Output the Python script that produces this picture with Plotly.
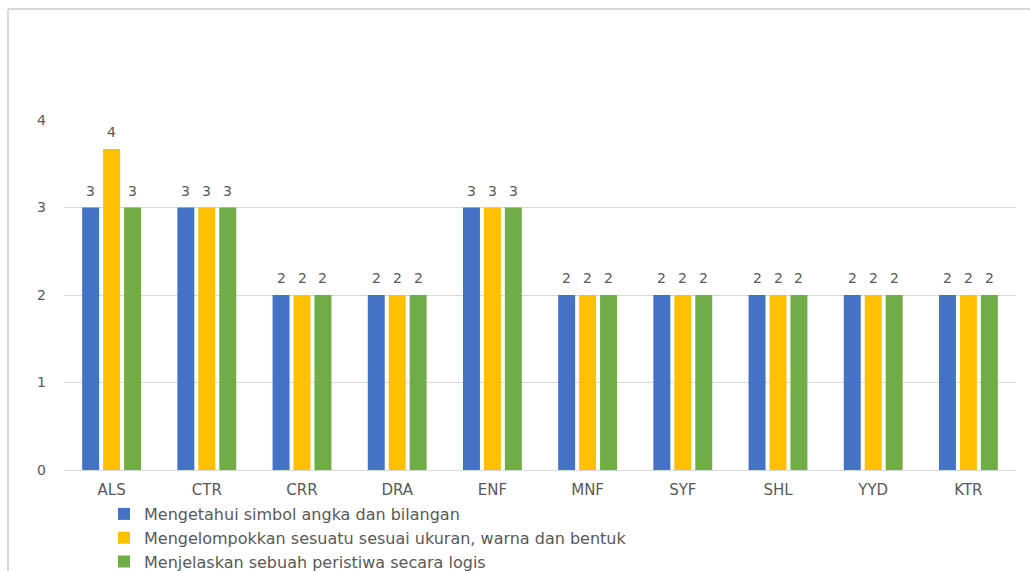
import plotly.graph_objects as go

categories = ["ALS", "CTR", "CRR", "DRA", "ENF", "MNF", "SYF", "SHL", "YYD", "KTR"]
series_names = [
    "Mengetahui simbol angka dan bilangan",
    "Mengelompokkan sesuatu sesuai ukuran, warna dan bentuk",
    "Menjelaskan sebuah peristiwa secara logis",
]
s1 = [3, 3, 2, 2, 3, 2, 2, 2, 2, 2]
s2 = [3.67, 3, 2, 2, 3, 2, 2, 2, 2, 2]
s3 = [3, 3, 2, 2, 3, 2, 2, 2, 2, 2]
colors = ["#4472C4", "#FFC000", "#70AD47"]
y_ticks = [0, 1, 2, 3, 4]

FONT = "DejaVu Sans"
GREY = "#595959"
W, H = 1030, 571
L, R, T, B = 64, 14, 120, 101
pw, ph = W - L - R, H - T - B
BARGAP, GROUPGAP = 0.34, 0.19
slot = pw / len(categories) * (1 - BARGAP) / 3  # pixel spacing between bars in a group

fig = go.Figure()
annotations = []
for i, (name, vals, c) in enumerate(zip(series_names, [s1, s2, s3], colors)):
    fig.add_trace(go.Bar(
        x=categories, y=vals, name=name, marker_color=c,
        marker_line_width=0,
    ))
    for cat, v in zip(categories, vals):
        annotations.append(dict(
            x=cat, y=v, xref="x", yref="y", text=f"{v:.0f}", showarrow=False,
            xanchor="center", yanchor="bottom", xshift=(i - 1) * slot, yshift=7,
            font=dict(family=FONT, size=14, color=GREY),
        ))

def px_x(p):
    return (p - L) / pw

def px_y(p):
    return (H - B - p) / ph

fig.update_layout(
    width=W, height=H,
    margin=dict(l=L, r=R, t=T, b=B, autoexpand=False),
    paper_bgcolor="white", plot_bgcolor="white",
    barmode="group", bargap=BARGAP, bargroupgap=GROUPGAP,
    font=dict(family=FONT, color=GREY),
    showlegend=True,
    legend=dict(
        orientation="v", x=px_x(104), y=px_y(497), xanchor="left", yanchor="top",
        font=dict(family=FONT, size=16, color=GREY), bgcolor="rgba(0,0,0,0)",
        itemwidth=30, tracegroupgap=0,
    ),
    xaxis=dict(
        showgrid=False, showline=True, linecolor="#d9d9d9", linewidth=1,
        ticks="", tickfont=dict(family=FONT, size=15, color=GREY), ticklabelstandoff=6,
    ),
    yaxis=dict(
        range=[0, 4], tickvals=y_ticks, showgrid=True, gridcolor="#d9d9d9",
        gridwidth=1, zeroline=False, showline=False, ticks="",
        tickfont=dict(family=FONT, size=14, color=GREY), ticklabelstandoff=17,
    ),
    annotations=annotations,
    shapes=[
        dict(type="line", xref="paper", yref="paper", x0=px_x(8), x1=px_x(8),
             y0=px_y(9), y1=px_y(H + 5), line=dict(color="#d9d9d9", width=2)),
        dict(type="line", xref="paper", yref="paper", x0=px_x(8), x1=px_x(W + 5),
             y0=px_y(9), y1=px_y(9), line=dict(color="#d9d9d9", width=2)),
    ],
)

fig.write_html("out.html")
